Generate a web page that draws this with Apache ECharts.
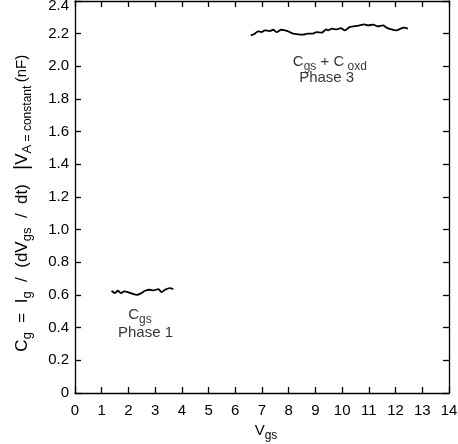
<!DOCTYPE html>
<html>
<head>
<meta charset="UTF-8">
<title>Cg vs Vgs</title>
<script src="https://cdn.jsdelivr.net/npm/echarts@6/dist/echarts.min.js"></script>
<style>
  html, body { margin: 0; padding: 0; background: #fff; }
  #main { width: 458px; height: 444px; }
</style>
</head>
<body>
<div id="main"></div>
<script type="text/javascript">
// phase 1 trace (Vgs, Cg)
var phase1X = [1.37, 1.50, 1.60, 1.72, 1.84, 1.98, 2.18, 2.31, 2.49, 2.62, 2.81, 2.93, 3.12, 3.24, 3.37, 3.55, 3.68];
var phase1Y = [0.626, 0.612, 0.626, 0.612, 0.622, 0.618, 0.606, 0.601, 0.612, 0.626, 0.632, 0.628, 0.636, 0.618, 0.632, 0.642, 0.636];

// phase 3 trace
var phase3X = [6.58, 6.73, 6.85, 6.98, 7.11, 7.29, 7.42, 7.54, 7.73, 7.85, 7.98, 8.16, 8.35, 8.54, 8.72, 8.91, 9.04, 9.23, 9.41,
               9.47, 9.62, 9.79, 9.95, 10.10, 10.28, 10.47, 10.66, 10.82, 10.97, 11.16, 11.34, 11.53, 11.66, 11.84, 12.03, 12.19, 12.31, 12.46];
var phase3Y = [2.190, 2.200, 2.214, 2.210, 2.220, 2.216, 2.224, 2.210, 2.224, 2.220, 2.214, 2.200, 2.196, 2.194, 2.200, 2.200, 2.210, 2.206, 2.226,
               2.220, 2.231, 2.226, 2.234, 2.220, 2.240, 2.246, 2.251, 2.257, 2.251, 2.255, 2.245, 2.251, 2.237, 2.226, 2.220, 2.231, 2.237, 2.231];

// text notes: [x, y, rich text]
var notes = [
  [2.43, 0.48, '{m|C}{s|gs}'],
  [2.64, 0.37, '{m|Phase 1}'],
  [9.54, 2.03, '{m|C}{s|gs}{m| + C}{s| oxd}'],
  [9.42, 1.927, '{m|Phase 3}']
];

var xMin = 0, xMax = 14, xStep = 1;
var yMin = 0, yMax = 2.4, yStep = 0.2;

function pairs(xs, ys) {
  var out = [];
  for (var i = 0; i < xs.length; i++) out.push([xs[i], ys[i]]);
  return out;
}

var font = 'Liberation Sans, Arial, Helvetica, sans-serif';
function st(size, lh, va) {
  return {
    fontSize: size, fontFamily: font, color: '#000', lineHeight: lh, verticalAlign: va,
    textBorderWidth: 0, textShadowBlur: 0
  };
}
var richNote = { m: st(15, 22, 'middle'), s: st(12, 12, 'bottom') };
var richTitle = {
  m: st(17, 24, 'middle'),
  s: st(13, 13, 'bottom'),
  c: st(12, 12, 'bottom'),
  u: st(15, 24, 'middle'),
  bar: st(20, 24, 'middle')
};
// top tick label sits just under the frame edge
var richTick = { top: { fontSize: 15, fontFamily: font, color: '#000', padding: [10, 0, 0, 0] } };

function axisLine() { return { show: true, onZero: false, lineStyle: { color: '#000', width: 1.3 } }; }
function axisTick() { return { show: true, inside: true, length: 6, lineStyle: { color: '#000', width: 1.3 } }; }

var myChart = echarts.init(document.getElementById('main'), null, { renderer: 'canvas' });

var option = {
  backgroundColor: '#fff',
  animation: false,
  grid: { left: 75, right: 9, top: 1, bottom: 51, containLabel: false, outerBoundsMode: 'none' },
  xAxis: [
    {
      type: 'value', min: xMin, max: xMax, interval: xStep, position: 'bottom',
      axisLine: axisLine(), axisTick: axisTick(),
      axisLabel: { color: '#000', fontSize: 15, fontFamily: font, margin: 10 },
      splitLine: { show: false },
      name: '{m|V}{s|gs}', nameLocation: 'middle', nameGap: 27,
      nameTextStyle: { rich: richNote, padding: [0, 0, 0, 8] }
    },
    {
      type: 'value', min: xMin, max: xMax, interval: xStep, position: 'top',
      axisLine: axisLine(), axisTick: axisTick(),
      axisLabel: { show: false },
      splitLine: { show: false }
    }
  ],
  yAxis: [
    {
      type: 'value', min: yMin, max: yMax, interval: yStep, position: 'left',
      axisLine: axisLine(), axisTick: axisTick(),
      axisLabel: {
        color: '#000', fontSize: 15, fontFamily: font, margin: 6, rich: richTick,
        formatter: function (v) {
          if (v === 0) return '0';
          if (v >= yMax) return '{top|' + v.toFixed(1) + '}';
          return v.toFixed(1);
        }
      },
      splitLine: { show: false },
      name: '{m|C}{s|g}{m|  =  I}{s|g}{m|  /  (dV}{s|gs}{m|  /  dt)   }{bar||}{m|V}{s|A}{c| = constant }{u|(nF)   }',
      nameLocation: 'middle', nameRotate: 90, nameGap: 41,
      nameTextStyle: { rich: richTitle }
    },
    {
      type: 'value', min: yMin, max: yMax, interval: yStep, position: 'right',
      axisLine: axisLine(), axisTick: axisTick(),
      axisLabel: { show: false },
      splitLine: { show: false }
    }
  ],
  series: [
    {
      name: 'Phase 1', type: 'line', data: pairs(phase1X, phase1Y),
      showSymbol: false, smooth: 0.3,
      lineStyle: { color: '#000', width: 1.8 }
    },
    {
      name: 'Phase 3', type: 'line', data: pairs(phase3X, phase3Y),
      showSymbol: false, smooth: 0.3,
      lineStyle: { color: '#000', width: 1.8 }
    },
    {
      name: 'notes', type: 'scatter', silent: true, symbolSize: 0,
      itemStyle: { color: '#000' },
      data: notes.map(function (n) { return { value: [n[0], n[1]], text: n[2] }; }),
      label: {
        show: true, position: 'inside', rich: richNote, color: '#000',
        textBorderWidth: 0, textBorderColor: 'transparent',
        formatter: function (p) { return p.data.text; }
      }
    }
  ]
};

myChart.setOption(option);
</script>
</body>
</html>
